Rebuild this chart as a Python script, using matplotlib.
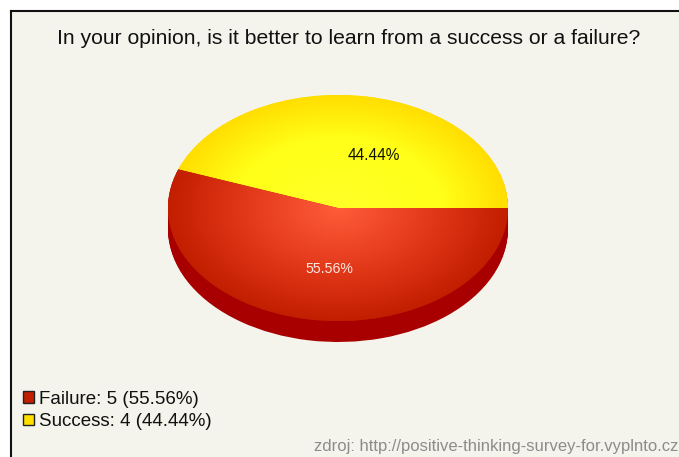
import numpy as np
import matplotlib
matplotlib.use("Agg")
import matplotlib.pyplot as plt
from matplotlib.patches import Patch
from matplotlib.colors import LinearSegmentedColormap

plt.rcParams['font.family'] = ['Liberation Sans', 'DejaVu Sans']

title = "In your opinion, is it better to learn from a success or a failure?"
categories = ["Success", "Failure"]
counts = [4, 5]
legend_order = [1, 0]
edge_colors = ["#ffde00", "#c21e00"]
mid_colors = ["#ffff18", "#de3416"]
center_colors = ["#ffff28", "#ff5c3a"]
side_color = "#a80000"
source = "zdroj: http://positive-thinking-survey-for.vyplnto.cz"

W, H = 679, 457
fig = plt.figure(figsize=(W / 100, H / 100), dpi=100, facecolor="white")

# Panel with a frame on the left and top
bg = fig.add_axes([11 / W, 0, (W - 11) / W, (H - 11) / H], facecolor="#f4f4ec")
bg.set_xlim(11, W)
bg.set_ylim(H, 11)
bg.set_xticks([])
bg.set_yticks([])
for side in ("right", "bottom"):
    bg.spines[side].set_visible(False)
for side in ("left", "top"):
    bg.spines[side].set_linewidth(1.5)
    bg.spines[side].set_color("#111111")

# Pie axes: unit circle maps to the ellipse
cx, cy, rx, ry, depth = 338, 208, 170, 113, 21
ax = fig.add_axes([(cx - rx) / W, (H - cy - ry) / H, 2 * rx / W, 2 * ry / H])

total = sum(counts)
for d in range(depth, 0, -1):
    w, _ = ax.pie(counts, colors=[side_color, side_color], startangle=0,
                  center=(0, -d / ry), radius=1)
    for p in w:
        p.set_clip_on(False)

wedges, _ = ax.pie(counts, colors=edge_colors, startangle=0, radius=1, counterclock=True)

n = 400
xs, ys = np.meshgrid(np.linspace(-1, 1, n), np.linspace(-1, 1, n))
rr = np.clip(np.hypot(xs, ys), 0, 1)
for wedge, c0, cm, c1 in zip(wedges, center_colors, mid_colors, edge_colors):
    wedge.set_clip_on(False)
    cmap = LinearSegmentedColormap.from_list("g", [(0, c0), (0.62, cm), (1, c1)])
    im = ax.imshow(rr, extent=(-1, 1, -1, 1), origin="lower", cmap=cmap, vmin=0, vmax=1,
                   aspect="auto", zorder=3, interpolation="bilinear")
    im.set_clip_path(wedge)
ax.set_aspect("auto")
ax.set_xlim(-1, 1)
ax.set_ylim(-1, 1)
ax.axis("off")

# Texts
bg.text(349, 38, title, ha="center", va="center", fontsize=15.2, color="#111111")
fig.text(373.5 / W, 1 - 155 / H, f"{100 * counts[0] / total:.2f}%", ha="center", va="center",
         fontsize=11.2, color="#111100", zorder=5)
fig.text(329 / W, 1 - 269 / H, f"{100 * counts[1] / total:.2f}%", ha="center", va="center",
         fontsize=10.2, color="#ffe8e0", zorder=5)
bg.text(678, 447, source, ha="right", va="center", fontsize=12.0, color="#8c8c8c")

handles = [Patch(facecolor=edge_colors[i], edgecolor="#222222", linewidth=1) for i in legend_order]
labels = [f"{categories[i]}: {counts[i]} ({100 * counts[i] / total:.2f}%)" for i in legend_order]
fig.legend(handles, labels, loc="lower left", bbox_to_anchor=(19 / W, 1 - 434 / H), frameon=False,
           fontsize=13.5, handlelength=0.58, handleheight=0.58, handletextpad=0.28,
           labelspacing=0.3, borderpad=0.2, borderaxespad=0, labelcolor="#111111")

fig.savefig("out.png", dpi=100, facecolor="white")
